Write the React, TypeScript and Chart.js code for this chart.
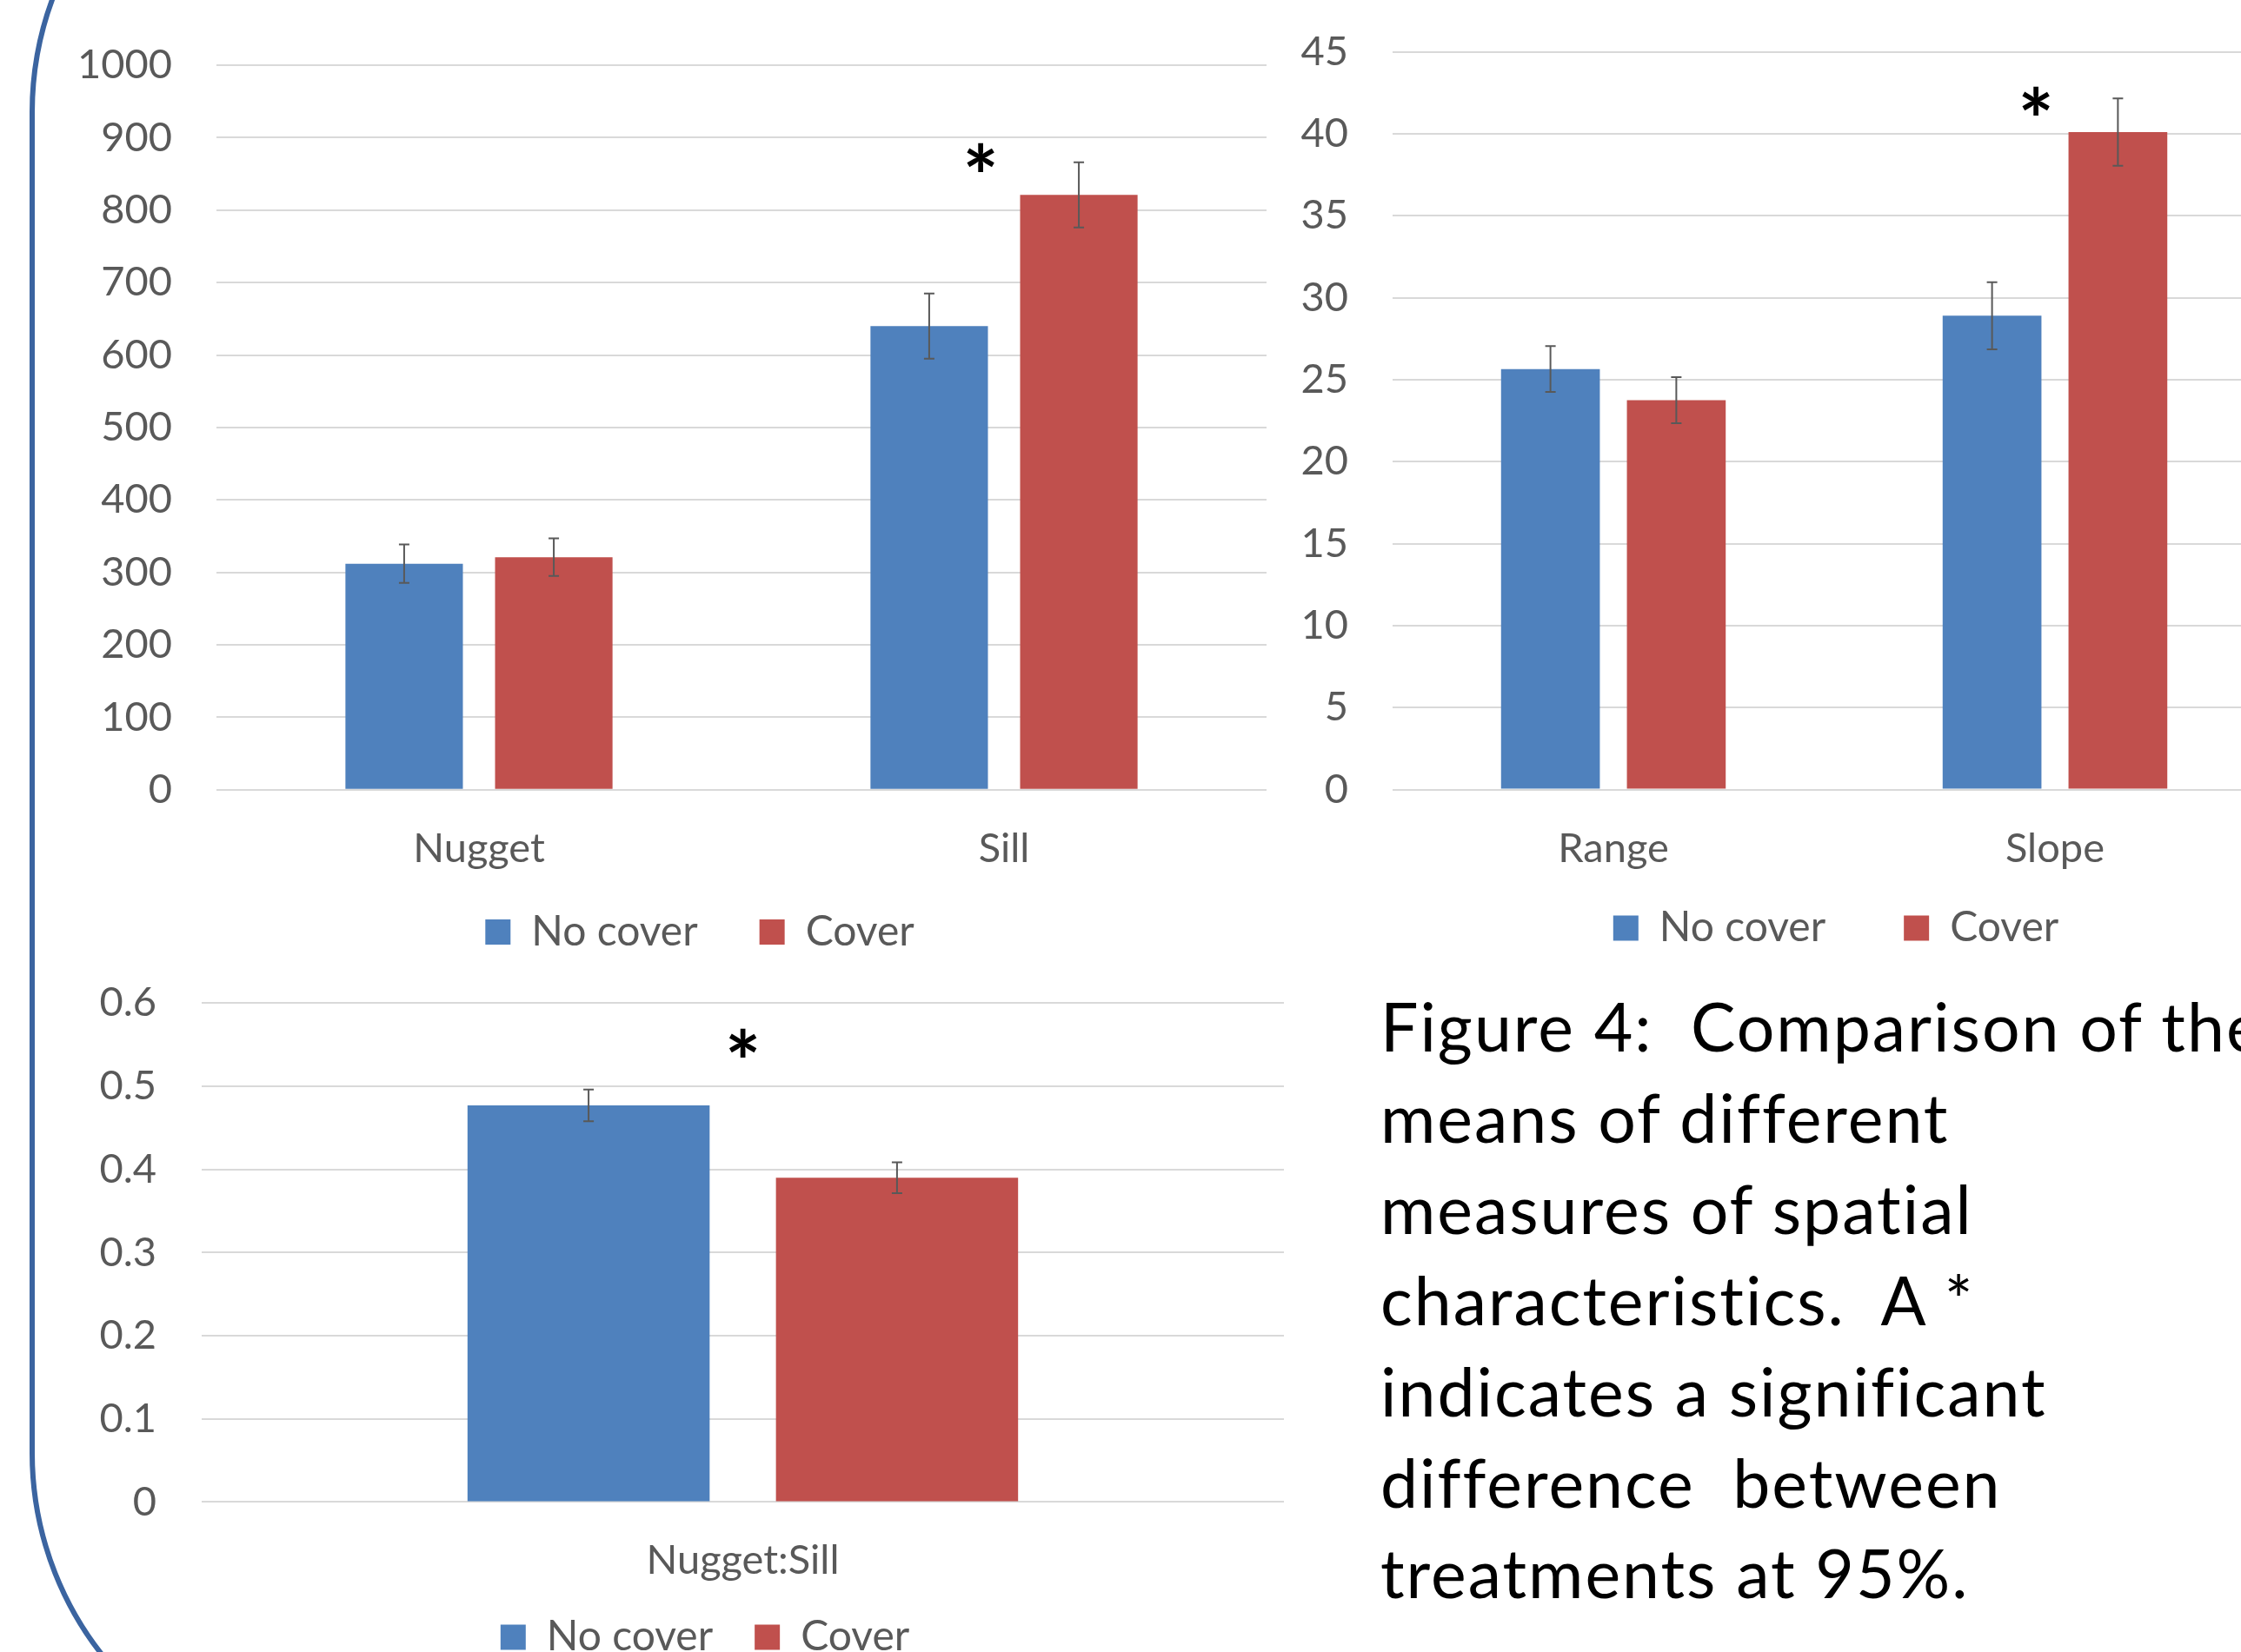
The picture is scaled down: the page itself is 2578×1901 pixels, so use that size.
import React, { useEffect, useRef } from 'react';
import { Chart, registerables } from 'chart.js';

Chart.register(...registerables);

// ---------- data ----------
const seriesNames = ['No cover', 'Cover'];

const topLeftCategories = ['Nugget', 'Sill'];
const topLeftNoCover = [312, 640];
const topLeftCover = [321, 821];
const topLeftNoCoverErr = [26.5, 45];
const topLeftCoverErr = [26, 45];
const topLeftTicks = [0, 100, 200, 300, 400, 500, 600, 700, 800, 900, 1000];
const topLeftStar = { category: 'Sill', value: 873 };

const topRightCategories = ['Range', 'Slope'];
const topRightNoCover = [25.65, 28.9];
const topRightCover = [23.75, 40.1];
const topRightNoCoverErr = [1.4, 2.05];
const topRightCoverErr = [1.4, 2.05];
const topRightTicks = [0, 5, 10, 15, 20, 25, 30, 35, 40, 45];
const topRightStar = { category: 'Slope', value: 42.0 };

const bottomCategories = ['Nugget:Sill'];
const bottomNoCover = [0.477];
const bottomCover = [0.39];
const bottomNoCoverErr = [0.019];
const bottomCoverErr = [0.0185];
const bottomTicks = [0, 0.1, 0.2, 0.3, 0.4, 0.5, 0.6];
const bottomStar = { category: 'Nugget:Sill', value: 0.552 };

const captionLines = [
  'Figure 4:  Comparison of the',
  'means of different',
  'measures of spatial',
  'characteristics.  A *',
  'indicates a significant',
  'difference  between',
  'treatments at 95%.',
];

// ---------- styles ----------
const FONT = 'Lato, "Open Sans", sans-serif';
const AXIS_COLOR = '#595959';
const GRID_COLOR = '#d9d9d9';
const BLUE = '#4f81bd';
const RED = '#c0504d';
const FONT_SIZE = 47;
const LEGEND_FONT_SIZE = 48;
const STAR_INK_HEIGHT = 33;

const errorBarPlugin = {
  id: 'errorBars',
  afterDatasetsDraw(chart: any) {
    const { ctx } = chart;
    const yScale = chart.scales.y;
    chart.data.datasets.forEach((ds: any, di: number) => {
      const meta = chart.getDatasetMeta(di);
      const errs: number[] = ds.errors || [];
      meta.data.forEach((bar: any, i: number) => {
        const v = ds.data[i];
        const e = errs[i];
        if (e == null) return;
        const x = bar.x;
        const yTop = yScale.getPixelForValue(v + e);
        const yBot = yScale.getPixelForValue(v - e);
        ctx.save();
        ctx.strokeStyle = AXIS_COLOR;
        ctx.lineWidth = 2;
        ctx.beginPath();
        ctx.moveTo(x, yTop);
        ctx.lineTo(x, yBot);
        ctx.moveTo(x - 6, yTop);
        ctx.lineTo(x + 6, yTop);
        ctx.moveTo(x - 6, yBot);
        ctx.lineTo(x + 6, yBot);
        ctx.stroke();
        ctx.restore();
      });
    });
  },
};

function makeStarPlugin(mark: { category: string; value: number }, dx: number) {
  return {
    id: 'significance',
    afterDraw(chart: any) {
      const { ctx } = chart;
      const xs = chart.scales.x;
      const ys = chart.scales.y;
      const idx = chart.data.labels.indexOf(mark.category);
      const px = xs.getPixelForValue(idx) + dx;
      const py = ys.getPixelForValue(mark.value);
      ctx.save();
      ctx.textAlign = 'left';
      ctx.textBaseline = 'alphabetic';
      ctx.font = `bold 100px ${FONT}`;
      const t = ctx.measureText('*');
      const unitH = (t.actualBoundingBoxAscent + t.actualBoundingBoxDescent) / 100;
      const size = STAR_INK_HEIGHT / unitH;
      ctx.font = `bold ${size}px ${FONT}`;
      const m = ctx.measureText('*');
      const inkW = m.actualBoundingBoxLeft + m.actualBoundingBoxRight;
      const inkH = m.actualBoundingBoxAscent + m.actualBoundingBoxDescent;
      ctx.fillStyle = '#000';
      ctx.fillText('*', px - inkW / 2 + m.actualBoundingBoxLeft, py + inkH / 2 - m.actualBoundingBoxDescent);
      ctx.restore();
    },
  };
}

function makeLegendPlacer(centerX: number, top: number) {
  return {
    id: 'legendPlacer',
    afterLayout(chart: any) {
      const lg = chart.legend;
      if (!lg) return;
      const dx = centerX - (lg.left + lg.right) / 2;
      lg.left += dx;
      lg.right += dx;
      const dy = top - lg.top;
      lg.top += dy;
      lg.bottom += dy;
    },
  };
}

type Layout = {
  left: number;
  top: number;
  width: number;
  plotLeft: number;
  plotRight: number;
  plotTop: number;
  plotBottom: number;
  yTickPad: number;
  xLabelCenter: number;
  legendCenterX: number;
  legendCenterY: number;
  legendGap: number;
  starDx: number;
};

type Spec = {
  categories: string[];
  noCover: number[];
  cover: number[];
  noCoverErr: number[];
  coverErr: number[];
  ticks: number[];
  star: { category: string; value: number };
  layout: Layout;
};

function computeDims(L: Layout) {
  const lineH = FONT_SIZE * 1.2;
  const padLeft = 10;
  const yAxisWidth = L.plotLeft - padLeft;
  const padRight = L.width - L.plotRight;
  const xTickPad = L.xLabelCenter - L.plotBottom - lineH / 2;
  const xAxisHeight = xTickPad + lineH + 8;
  const legendH = LEGEND_FONT_SIZE + L.legendGap + 10;
  const height = Math.ceil(L.plotBottom + xAxisHeight + legendH);
  const legendTop = L.legendCenterY - L.legendGap - LEGEND_FONT_SIZE / 2;
  return { padLeft, yAxisWidth, padRight, xTickPad, xAxisHeight, height, legendTop };
}

function BarPanel({ spec }: { spec: Spec }) {
  const ref = useRef<HTMLCanvasElement>(null);
  const L = spec.layout;
  const dims = computeDims(L);

  useEffect(() => {
    const canvas = ref.current;
    if (!canvas) return;
    const font = { family: FONT, size: FONT_SIZE };
    const chart = new Chart(canvas, {
      type: 'bar',
      data: {
        labels: spec.categories,
        datasets: [
          {
            label: seriesNames[0],
            data: spec.noCover,
            errors: spec.noCoverErr,
            backgroundColor: BLUE,
            categoryPercentage: 0.57,
            barPercentage: 0.785,
          } as any,
          {
            label: seriesNames[1],
            data: spec.cover,
            errors: spec.coverErr,
            backgroundColor: RED,
            categoryPercentage: 0.57,
            barPercentage: 0.785,
          } as any,
        ],
      },
      options: {
        responsive: false,
        maintainAspectRatio: false,
        animation: false,
        devicePixelRatio: 1,
        layout: { padding: { left: dims.padLeft, right: dims.padRight, top: L.plotTop, bottom: 0 } },
        plugins: {
          legend: {
            position: 'bottom',
            labels: {
              boxWidth: 29,
              boxHeight: 29,
              padding: L.legendGap,
              color: AXIS_COLOR,
              font: { family: FONT, size: LEGEND_FONT_SIZE },
            },
          },
          tooltip: { enabled: false },
        },
        scales: {
          x: {
            grid: { display: false },
            border: { display: false },
            ticks: { color: AXIS_COLOR, font, padding: dims.xTickPad, maxRotation: 0, autoSkip: false },
            afterFit: (s: any) => {
              s.height = dims.xAxisHeight;
              s.paddingLeft = 0;
              s.paddingRight = 0;
            },
          },
          y: {
            min: spec.ticks[0],
            max: spec.ticks[spec.ticks.length - 1],
            grid: { color: GRID_COLOR, lineWidth: 2, drawTicks: false },
            border: { display: false },
            ticks: {
              color: AXIS_COLOR,
              font,
              padding: L.yTickPad,
              callback: (v: any) => String(v),
            },
            afterBuildTicks: (s: any) => {
              s.ticks = spec.ticks.map((v) => ({ value: v }));
            },
            afterFit: (s: any) => {
              s.width = dims.yAxisWidth;
              s.paddingTop = 0;
              s.paddingBottom = 0;
            },
          },
        },
      } as any,
      plugins: [
        errorBarPlugin,
        makeStarPlugin(spec.star, L.starDx),
        makeLegendPlacer(L.legendCenterX, dims.legendTop),
      ],
    });
    return () => chart.destroy();
  }, []);

  return (
    <canvas
      ref={ref}
      width={L.width}
      height={dims.height}
      style={{ position: 'absolute', left: L.left, top: L.top, width: L.width, height: dims.height }}
    />
  );
}

const topLeftSpec: Spec = {
  categories: topLeftCategories,
  noCover: topLeftNoCover,
  cover: topLeftCover,
  noCoverErr: topLeftNoCoverErr,
  coverErr: topLeftCoverErr,
  ticks: topLeftTicks,
  star: topLeftStar,
  layout: {
    left: 0,
    top: 0,
    width: 1480,
    plotLeft: 249,
    plotRight: 1457,
    plotTop: 75,
    plotBottom: 908,
    yTickPad: 51,
    xLabelCenter: 968,
    legendCenterX: 805,
    legendCenterY: 1072.5,
    legendGap: 71,
    starDx: -27,
  },
};

const topRightSpec: Spec = {
  categories: topRightCategories,
  noCover: topRightNoCover,
  cover: topRightCover,
  noCoverErr: topRightNoCoverErr,
  coverErr: topRightCoverErr,
  ticks: topRightTicks,
  star: topRightStar,
  layout: {
    left: 1450,
    top: 0,
    width: 1250,
    plotLeft: 152,
    plotRight: 1168,
    plotTop: 59.6,
    plotBottom: 907.8,
    yTickPad: 51,
    xLabelCenter: 968,
    legendCenterX: 662,
    legendCenterY: 1068,
    legendGap: 90,
    starDx: -22,
  },
};

const bottomSpec: Spec = {
  categories: bottomCategories,
  noCover: bottomNoCover,
  cover: bottomCover,
  noCoverErr: bottomNoCoverErr,
  coverErr: bottomCoverErr,
  ticks: bottomTicks,
  star: bottomStar,
  layout: {
    left: 0,
    top: 1100,
    width: 1500,
    plotLeft: 232,
    plotRight: 1477,
    plotTop: 54.3,
    plotBottom: 627.6,
    yTickPad: 52,
    xLabelCenter: 687,
    legendCenterX: 811,
    legendCenterY: 784,
    legendGap: 48,
    starDx: 0,
  },
};

export default function App() {
  return (
    <div
      style={{
        position: 'absolute',
        left: 0,
        top: 0,
        width: 2578,
        height: 1901,
        overflow: 'hidden',
        background: '#ffffff',
      }}
    >
      <svg width={2578} height={1901} style={{ position: 'absolute', left: 0, top: 0 }}>
        <path
          d="M 412 -246 A 375 375 0 0 0 37 129 L 37 1672 A 375 375 0 0 0 412 2047"
          fill="none"
          stroke="#3b64a0"
          strokeWidth={6}
        />
      </svg>
      <BarPanel spec={topLeftSpec} />
      <BarPanel spec={topRightSpec} />
      <BarPanel spec={bottomSpec} />
      <div
        style={{
          position: 'absolute',
          left: 1588,
          top: 1128,
          fontFamily: FONT,
          fontSize: 77,
          letterSpacing: '2px',
          lineHeight: '104.9px',
          color: '#000',
          whiteSpace: 'pre',
        }}
      >
        {captionLines.map((line, i) => (
          <div key={i}>{line}</div>
        ))}
      </div>
    </div>
  );
}
